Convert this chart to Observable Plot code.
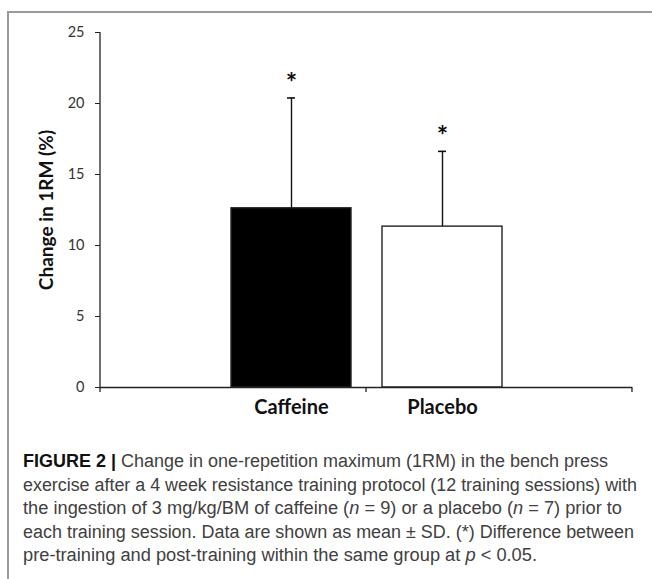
<!DOCTYPE html>
<html><head><meta charset="utf-8">
<script src="https://cdn.jsdelivr.net/npm/d3@7"></script>
<script src="https://cdn.jsdelivr.net/npm/@observablehq/plot@0.6"></script>
<style>
html,body{margin:0;padding:0;background:#fff;}
body{width:652px;height:579px;position:relative;overflow:hidden;}
#frame{position:absolute;left:7px;top:11px;width:700px;height:700px;border-left:2px solid #9a9a9a;border-top:2px solid #9a9a9a;}
#chart{position:absolute;left:0;top:0;}
#caption{position:absolute;left:23px;top:450px;font-family:"Liberation Sans",Arial,sans-serif;font-size:18px;line-height:23.5px;color:#404040;}
#caption .line{display:block;white-space:nowrap;transform-origin:0 0;width:max-content;}
#caption b{color:#111;}
</style></head><body>
<div id="frame"></div><div id="chart"></div><div id="caption"></div>
<script>
// ---- data ----
const groups = ["Caffeine", "Placebo"];
const means = [12.62, 11.33];
const sds = [7.77, 5.30];
const sigMarks = ["*", "*"];
const yTicks = [0, 5, 10, 15, 20, 25];
const yLabel = "Change in 1RM (%)";
const captionLines = [
  "<b>FIGURE 2 |</b> Change in one-repetition maximum (1RM) in the bench press",
  "exercise after a 4 week resistance training protocol (12 training sessions) with",
  "the ingestion of 3 mg/kg/BM of caffeine (<i>n</i> = 9) or a placebo (<i>n</i> = 7) prior to",
  "each training session. Data are shown as mean ± SD. (*) Difference between",
  "pre-training and post-training within the same group at <i>p</i> &lt; 0.05."
];
// layout: target pixel widths of the caption lines
const captionWidths = [585, 614, 599, 611, 514];

const data = groups.map((g, i) => ({group: g, mean: means[i], sd: sds[i], mark: sigMarks[i]}));
const upper = d => d.mean + d.sd;

function axisLines(index, scales, values, dimensions) {
  const {marginLeft, marginRight, width} = dimensions;
  const y0 = scales.y(0), yTop = scales.y(d3.max(yTicks));
  const g = d3.create("svg:g").attr("stroke", "#222").attr("stroke-width", 1.3);
  g.append("line").attr("x1", marginLeft).attr("x2", marginLeft).attr("y1", yTop).attr("y2", y0);
  const xs = [marginLeft, (marginLeft + width - marginRight) / 2, width - marginRight];
  for (const x of xs) g.append("line").attr("x1", x).attr("x2", x).attr("y1", y0).attr("y2", y0 + 5);
  return g.node();
}

const chart = Plot.plot({
  width: 652,
  height: 430,
  marginLeft: 100,
  marginRight: 20,
  marginTop: 32,
  marginBottom: 43,
  style: {fontFamily: "Lato, sans-serif", fontSize: "14px", color: "#222", background: "transparent"},
  x: {domain: groups, paddingInner: 0.2053, paddingOuter: 0.864, label: null, axis: null},
  y: {domain: [0, 25], label: null, axis: null},
  color: {domain: groups, range: ["#000000", "#ffffff"]},
  marks: [
    Plot.barY(data, {x: "group", y: "mean", fill: "group", stroke: "#222", strokeWidth: 1.4}),
    Plot.ruleX(data, {x: "group", y1: "mean", y2: upper, stroke: "#111", strokeWidth: 1.4}),
    Plot.tickY(data, {x: "group", y: upper, insetLeft: 56, insetRight: 56, stroke: "#111", strokeWidth: 1.6}),
    Plot.text(data, {x: "group", y: upper, text: "mark", dy: -15, fontSize: 27, fontWeight: "bold", fill: "#111", ariaLabel: "sig"}),
    Plot.ruleY([0], {stroke: "#222", strokeWidth: 1.3}),
    axisLines,
    Plot.axisY({ticks: yTicks, tickSize: 5, tickPadding: 11, fontSize: 14.5, label: null, stroke: "#222", fill: "#333", ariaLabel: "yaxis"}),
    Plot.axisX({tickSize: 0, tickPadding: 12, fontSize: 20, fontWeight: "bold", label: null, fill: "#111", ariaLabel: "xaxis"}),
    Plot.text([yLabel], {text: d => d, frameAnchor: "left", textAnchor: "middle", dx: -54, rotate: -90, fontSize: 19, fontWeight: "bold", fill: "#111", ariaLabel: "ylabel"})
  ]
});
document.getElementById("chart").appendChild(chart);

const cap = document.getElementById("caption");
captionLines.forEach((html, i) => {
  const el = document.createElement("span");
  el.className = "line";
  el.innerHTML = html;
  cap.appendChild(el);
  const w = el.getBoundingClientRect().width;
  el.style.transform = `scaleX(${captionWidths[i] / w})`;
});
</script>
</body></html>
